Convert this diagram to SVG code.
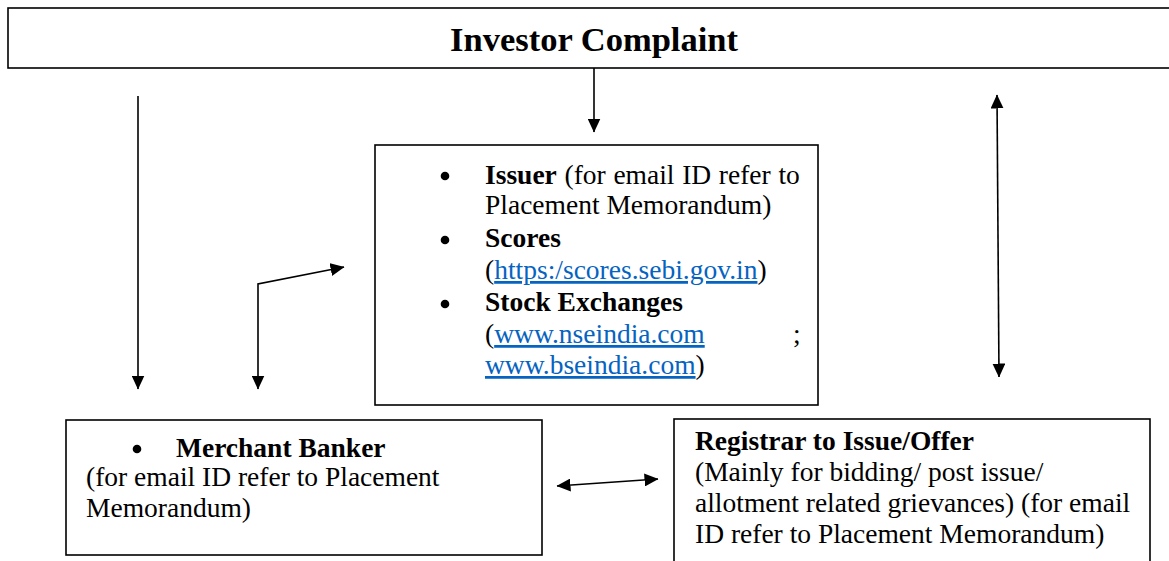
<svg xmlns="http://www.w3.org/2000/svg" width="1169" height="561" viewBox="0 0 1169 561">
<defs>
<marker id="ah" viewBox="0 0 14 13" refX="13.5" refY="6.5" markerWidth="14" markerHeight="13" markerUnits="userSpaceOnUse" orient="auto-start-reverse">
<path d="M0,0 L14,6.5 L0,13 z" fill="#000"/>
</marker>
<style>
.box{fill:#fff;stroke:#000;stroke-width:1.6}
.t{font-family:"Liberation Serif","Times New Roman",serif;font-size:27.5px;fill:#000}
.b{font-weight:bold}
.lnk{fill:#0563C1;text-decoration:underline}
.c{fill:none;stroke:#000;stroke-width:1.6}
.dot{fill:#000}
</style>
</defs>
<rect width="1169" height="561" fill="#fff"/>
<g id="investor-complaint">
<rect class="box" x="8" y="8" width="1170" height="60"/>
<text class="t b" x="594" y="51" text-anchor="middle" style="font-size:34.5px">Investor Complaint</text>
</g>
<g id="issuer-scores-exchanges">
<rect class="box" x="375" y="145" width="443" height="260"/>
<circle class="dot" cx="445" cy="176" r="4.3"/>
<text class="t" x="485" y="184" word-spacing="0.8"><tspan class="b">Issuer</tspan> (for email ID refer to</text>
<text class="t" x="485" y="214">Placement Memorandum)</text>
<circle class="dot" cx="445" cy="240" r="4.3"/>
<text class="t b" x="485" y="247">Scores</text>
<text class="t" x="485" y="279">(<tspan class="lnk">https:/scores.sebi.gov.in</tspan>)</text>
<circle class="dot" cx="445" cy="304" r="4.3"/>
<text class="t b" x="485" y="311">Stock Exchanges</text>
<text class="t" x="485" y="343">(<tspan class="lnk">www.nseindia.com</tspan></text>
<text class="t" x="793" y="343">;</text>
<text class="t" x="485" y="374"><tspan class="lnk">www.bseindia.com</tspan>)</text>
</g>
<g id="merchant-banker">
<rect class="box" x="66" y="420" width="476" height="135"/>
<circle class="dot" cx="137" cy="449" r="4.3"/>
<text class="t b" x="176" y="457">Merchant Banker</text>
<text class="t" x="86" y="486">(for email ID refer to Placement</text>
<text class="t" x="86" y="517">Memorandum)</text>
</g>
<g id="registrar">
<rect class="box" x="674" y="419" width="476" height="160"/>
<text class="t b" x="695" y="450">Registrar to Issue/Offer</text>
<text class="t" x="695" y="481">(Mainly for bidding/ post issue/</text>
<text class="t" x="695" y="512">allotment related grievances) (for email</text>
<text class="t" x="695" y="543">ID refer to Placement Memorandum)</text>
</g>
<g id="connectors">
<line class="c" x1="594" y1="68" x2="594" y2="132" marker-end="url(#ah)"/>
<line class="c" x1="138" y1="96" x2="138" y2="389" marker-end="url(#ah)"/>
<polyline class="c" points="344,267 258,284 258,389" marker-start="url(#ah)" marker-end="url(#ah)"/>
<line class="c" x1="997" y1="95" x2="999" y2="377" marker-start="url(#ah)" marker-end="url(#ah)"/>
<line class="c" x1="557" y1="486" x2="658" y2="479" marker-start="url(#ah)" marker-end="url(#ah)"/>
</g>
</svg>
